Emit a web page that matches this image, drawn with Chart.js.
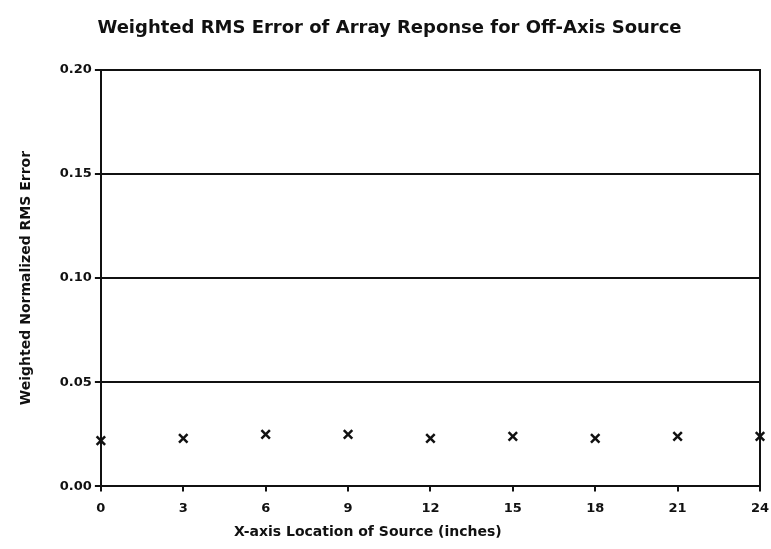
<!DOCTYPE html>
<html>
<head>
<meta charset="utf-8">
<script src="https://cdn.jsdelivr.net/npm/chart.js@4/dist/chart.umd.min.js"></script>
<style>
  html, body { margin: 0; padding: 0; background: #fff; }
  #wrap { width: 771px; height: 549px; }
</style>
</head>
<body>
<div id="wrap"><canvas id="rmsChart"></canvas></div>
<script>
// Source position along x (inches) and its weighted RMS error
const xLocations = [0, 3, 6, 9, 12, 15, 18, 21, 24];
const rmsError = [0.022, 0.023, 0.025, 0.025, 0.023, 0.024, 0.023, 0.024, 0.024];
const yTicks = [0, 0.05, 0.10, 0.15, 0.20];

const FONT = "'DejaVu Sans', Verdana, sans-serif";
const INK = "#111";

// x-axis caption sits a bit left of the plot centre
const xCaption = {
    id: "xCaption",
    afterDraw(chart) {
        const { ctx, chartArea } = chart;
        ctx.save();
        ctx.font = "bold 14px " + FONT;
        ctx.fillStyle = INK;
        ctx.textAlign = "center";
        ctx.textBaseline = "middle";
        ctx.fillText("X-axis Location of Source (inches)", chartArea.left + 267, chartArea.bottom + 46);
        ctx.restore();
    }
};

new Chart(document.getElementById("rmsChart"), {
    type: "scatter",
    data: {
        datasets: [{
            label: "RMS error",
            data: xLocations.map((x, i) => ({ x: x, y: rmsError[i] })),
            pointStyle: "crossRot",
            pointRadius: 6,
            pointBorderWidth: 2.5,
            borderColor: INK,
            backgroundColor: INK,
            clip: false,
        }]
    },
    options: {
        responsive: true,
        maintainAspectRatio: false,
        animation: false,
        layout: { autoPadding: false, padding: { left: 18, right: 10, top: 10, bottom: 24 } },
        scales: {
            x: {
                type: "linear",
                min: 0,
                max: 24,
                afterBuildTicks: (axis) => { axis.ticks = xLocations.map(v => ({ value: v })); },
                afterFit: (axis) => { axis.paddingRight = 0; },
                grid: { drawOnChartArea: false, drawTicks: true, tickLength: 5, color: INK, lineWidth: 2 },
                border: { color: INK, width: 2 },
                ticks: {
                    padding: 9,
                    font: { family: FONT, size: 13, weight: "bold" },
                    color: INK,
                },
            },
            y: {
                min: 0,
                max: 0.2,
                afterBuildTicks: (axis) => { axis.ticks = yTicks.map(v => ({ value: v })); },
                grid: { color: INK, lineWidth: 2, tickLength: 6 },
                border: { color: INK, width: 2 },
                ticks: {
                    padding: 3,
                    callback: (v) => v.toFixed(2),
                    font: { family: FONT, size: 13, weight: "bold" },
                    color: INK,
                },
                title: {
                    display: true,
                    text: "Weighted Normalized RMS Error",
                    font: { family: FONT, size: 14, weight: "bold" },
                    color: INK,
                    padding: { top: 0, bottom: 22 },
                },
            },
            yRight: {
                position: "right",
                min: 0,
                max: 0.2,
                afterFit: (axis) => { axis.width = 1; },
                grid: { display: false },
                ticks: { display: false },
                border: { color: INK, width: 2 },
            },
        },
        plugins: {
            legend: { display: false },
            tooltip: { enabled: false },
            title: {
                display: true,
                text: "Weighted RMS Error of Array Reponse for Off-Axis Source",
                font: { family: FONT, size: 18, weight: "bold" },
                color: INK,
                padding: { top: 8, bottom: 30 },
            },
        },
    },
    plugins: [xCaption],
});
</script>
</body>
</html>
